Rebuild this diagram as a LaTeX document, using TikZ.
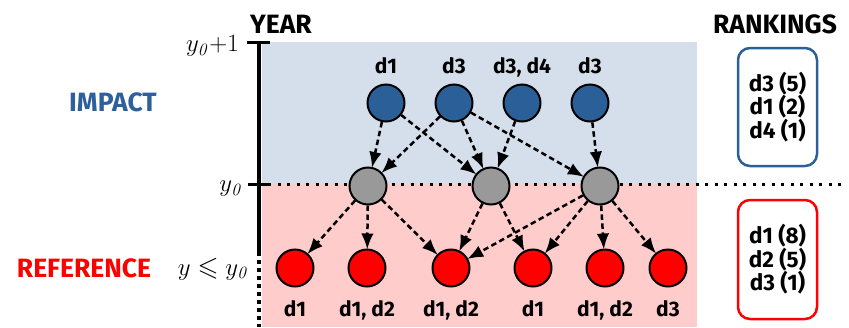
\documentclass[tikz,border=0pt]{standalone}
\usepackage[no-math]{fontspec}
\setmainfont{Fira Sans}
\usepackage{amssymb}
\usetikzlibrary{arrows.meta}
\definecolor{bgblue}{HTML}{D5DFEB}
\definecolor{bgpink}{HTML}{FFCCCC}
\definecolor{nodeblue}{HTML}{2B5F98}
\definecolor{nodegray}{HTML}{999999}
\definecolor{impactblue}{HTML}{2E609B}
\begin{document}
\begin{tikzpicture}[x=1pt,y=-1pt,
  circ/.style={circle, draw=black, line width=2pt, minimum size=37pt, inner sep=0pt},
  imp/.style={circ, fill=nodeblue},
  mid/.style={circ, fill=nodegray},
  refn/.style={circ, fill=red},
  cite/.style={line width=2.5pt, dash pattern=on 5.5pt off 3.5pt, -{Latex[length=16pt,width=12.5pt]}, shorten >=-1pt},
  lab/.style={font=\fontsize{21}{24}\selectfont\bfseries, anchor=base, inner sep=0pt},
  head/.style={font=\fontsize{26.5}{30}\selectfont\bfseries, anchor=base, inner sep=0pt},
  rankbox/.style={rounded corners=12pt, line width=2.5pt, minimum width=79pt, align=center, font=\fontsize{22.5}{23.5}\selectfont\bfseries},
  ylab/.style={font=\fontsize{27}{30}\selectfont, anchor=east, inner sep=0pt},
  axisline/.style={line width=3.5pt},
  tick/.style={line width=3pt}
]
\useasboundingbox (0,0) rectangle (849,327);
% backgrounds
\fill[bgblue] (262,42) rectangle (697,184);
\fill[bgpink] (262,184) rectangle (697,327);
% y0 dotted line
\coordinate (dl) at (268,184);
\coordinate (dr) at (845,184);
\draw[line width=3pt, dash pattern=on 3pt off 6.5pt] (dl) -- (dr);
% axis
\coordinate (atop) at (259,42);
\coordinate (amid) at (259,256);
\coordinate (adot) at (259,260);
\coordinate (abot) at (259,327);
\draw[axisline] (atop) -- (amid);
\draw[line width=4pt, dash pattern=on 4pt off 4pt] (adot) -- (abot);
\coordinate (t1l) at (247,42); \coordinate (t1r) at (270,42);
\coordinate (t2l) at (248,184); \coordinate (t2r) at (268,184);
\draw[tick] (t1l) -- (t1r);
\draw[tick] (t2l) -- (t2r);
% axis labels
\node[ylab] (ly1) at (239,46) {$y_{\mathit{0}}{+}1$};
\node[ylab] (ly0) at (243,189) {$y_{\mathit{0}}$};
\node[ylab] (lyr) at (249,269) {$y \leqslant y_{\mathit{0}}$};
\node[head] (year) at (281,33) {YEAR};
\node[head] (rank) at (775,33) {RANKINGS};
\node[head, text=impactblue] (impact) at (113,111) {IMPACT};
\node[head, text=red] (reference) at (84,277) {REFERENCE};
% impact nodes
\node[imp] (b1) at (386,103) {};
\node[imp] (b2) at (454,103) {};
\node[imp] (b3) at (522,103) {};
\node[imp] (b4) at (590,103) {};
\node[lab] (lb1) at (386,73) {d1};
\node[lab] (lb2) at (454,73) {d3};
\node[lab] (lb3) at (522,73) {d3, d4};
\node[lab] (lb4) at (590,73) {d3};
% middle nodes
\node[mid] (g1) at (368,186) {};
\node[mid] (g2) at (491,186) {};
\node[mid] (g3) at (600,186) {};
% reference nodes
\node[refn] (r1) at (295,268) {};
\node[refn] (r2) at (367,268) {};
\node[refn] (r3) at (451,268) {};
\node[refn] (r4) at (533,268) {};
\node[refn] (r5) at (605,268) {};
\node[refn] (r6) at (668,268) {};
\node[lab] (lr1) at (295,316) {d1};
\node[lab] (lr2) at (367,316) {d1, d2};
\node[lab] (lr3) at (451,316) {d1, d2};
\node[lab] (lr4) at (533,316) {d1};
\node[lab] (lr5) at (605,316) {d1, d2};
\node[lab] (lr6) at (668,316) {d3};
% edges
\draw[cite] (b1) -- (g1);
\draw[cite] (b1) -- (g2);
\draw[cite] (b2) -- (g1);
\draw[cite] (b2) -- (g2);
\draw[cite] (b2) -- (g3);
\draw[cite] (b3) -- (g2);
\draw[cite] (b4) -- (g3);
\draw[cite] (g1) -- (r1);
\draw[cite] (g1) -- (r2);
\draw[cite] (g1) -- (r3);
\draw[cite] (g2) -- (r3);
\draw[cite] (g2) -- (r4);
\draw[cite] (g3) -- (r3);
\draw[cite] (g3) -- (r4);
\draw[cite] (g3) -- (r5);
\draw[cite] (g3) -- (r6);
% ranking boxes
\node[rankbox, draw=nodeblue, minimum height=118pt] (rank1) at (777.5,107) {d3 (5)\\d1 (2)\\d4 (1)};
\node[rankbox, draw=red, minimum height=119pt] (rank2) at (777.5,259.5) {d1 (8)\\d2 (5)\\d3 (1)};
\end{tikzpicture}
\end{document}
